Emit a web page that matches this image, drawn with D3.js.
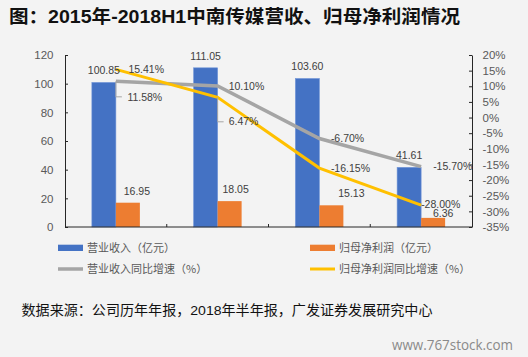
<!DOCTYPE html>
<html><head><meta charset="utf-8">
<script src="https://cdn.jsdelivr.net/npm/d3@7"></script>
<style>
html,body{margin:0;padding:0;background:#f3f3f3;}
svg{display:block;font-family:"Liberation Sans","Noto Sans CJK SC",sans-serif;}
</style></head>
<body><svg id="c" width="528" height="357"></svg>
<script>
const categories = ["2015","2016","2017","2018H1"];
const revenue = [100.85, 111.05, 103.60, 41.61];
const netProfit = [16.95, 18.05, 15.13, 6.36];
const revenueGrowth = [11.58, 10.10, -6.70, -15.70];
const profitGrowth = [15.41, 6.47, -16.15, -28.00];
const leftTicks = [0,20,40,60,80,100,120];
const rightTicks = [-35,-30,-25,-20,-15,-10,-5,0,5,10,15,20];
const seriesNames = ["营业收入（亿元）","归母净利润（亿元）","营业收入同比增速（%）","归母净利润同比增速（%）"];
const titleText = "图：2015年-2018H1中南传媒营收、归母净利润情况";
const sourceText = "数据来源：公司历年年报，2018年半年报，广发证券发展研究中心";
const watermark = "www.767stock.com";

// label placement tweaks (layout, not data)
const profitLabelDx = [9, 6, 20, 10];
const profitLabelDy = [-11, -12, -12, -5];
const grayLabelDx = [11.5, 11, 11.5, 12];
const grayLabelDy = [15.5, 0, 0, 0];
const yellowLabelDx = [12.5, 11, 11.5, 0];
const yellowLabelDy = [0, 24.5, 0, -1];

const svg = d3.select("#c");
const colors = {rev:"#4472c4", np:"#ed7d31", rg:"#a5a5a5", pg:"#ffc000"};
const L=65, R=472, T=55, B=227;

const x = d3.scaleBand().domain(categories).range([L,R]).padding(0);
const x1 = d3.scaleBand().domain(["rev","np"]).range([0,x.bandwidth()]).paddingInner(0).paddingOuter(1.12);
const y = d3.scaleLinear().domain([0,120]).range([B,T]);
const y2 = d3.scaleLinear().domain([-35,20]).range([B,T]);
const cx = d => x(d)+x.bandwidth()/2;

// title
svg.append("text").attr("x",9).attr("y",16).attr("dy","0.36em")
  .attr("font-size",18.5).attr("font-weight","bold").attr("fill","#111")
  .attr("textLength",451).attr("lengthAdjust","spacingAndGlyphs").text(titleText);

// bars
const g = svg.append("g");
g.selectAll(".rev").data(categories).join("rect")
  .attr("x",d=>x(d)+x1("rev")).attr("width",x1.bandwidth())
  .attr("y",(d,i)=>y(revenue[i])).attr("height",(d,i)=>y(0)-y(revenue[i]))
  .attr("fill",colors.rev).attr("stroke","#6f93d8").attr("stroke-width",0.6);
g.selectAll(".np").data(categories).join("rect")
  .attr("x",d=>x(d)+x1("np")).attr("width",x1.bandwidth())
  .attr("y",(d,i)=>y(netProfit[i])).attr("height",(d,i)=>y(0)-y(netProfit[i]))
  .attr("fill",colors.np);

// axes
const axL = d3.axisLeft(y).tickValues(leftTicks).tickSizeInner(-3).tickSizeOuter(0).tickPadding(11.5);
const axR = d3.axisRight(y2).tickValues(rightTicks).tickSizeInner(-3).tickSizeOuter(0).tickPadding(10.5).tickFormat(d=>d+"%");
function styleAx(sel){
  sel.selectAll("path,line").attr("stroke","#262626");
  sel.selectAll("text").attr("fill","#595959").attr("font-size",11.5);
}
svg.append("g").attr("transform",`translate(${L},0)`).call(axL).call(styleAx).attr("font-family",null);
svg.append("g").attr("transform",`translate(${R},0)`).call(axR).call(styleAx).attr("font-family",null);
svg.selectAll(".tick text").attr("font-family","Liberation Sans");
// x axis
svg.append("line").attr("x1",L).attr("x2",R).attr("y1",B).attr("y2",B).attr("stroke","#262626");
svg.selectAll(".xt").data(categories.slice(1)).join("line")
  .attr("x1",d=>x(d)).attr("x2",d=>x(d)).attr("y1",B).attr("y2",B-3).attr("stroke","#262626");

// lines
const line = d3.line().x((d,i)=>cx(categories[i]));
svg.append("path").datum(revenueGrowth).attr("d",line.y(d=>y2(d)))
  .attr("fill","none").attr("stroke",colors.rg).attr("stroke-width",3.5);
svg.append("path").datum(profitGrowth).attr("d",line.y(d=>y2(d)))
  .attr("fill","none").attr("stroke",colors.pg).attr("stroke-width",3);

// leader lines
function leader(i, vals, dy){
  const px = cx(categories[i]), py = y2(vals[i]);
  svg.append("path").attr("d",`M${px},${py}V${py+dy}H${px+6}`)
    .attr("fill","none").attr("stroke","#a6a6a6").attr("stroke-width",1);
}
leader(0, revenueGrowth, grayLabelDy[0]);
leader(1, profitGrowth, yellowLabelDy[1]);

// labels
const lab = svg.append("g").attr("font-size",10.5).attr("fill","#404040");
lab.selectAll(".rl").data(categories).join("text")
  .attr("x",d=>x(d)+x1("rev")+x1.bandwidth()/2).attr("y",(d,i)=>y(revenue[i])-12).attr("dy","0.35em")
  .attr("text-anchor","middle").text((d,i)=>revenue[i].toFixed(2));
lab.selectAll(".nl").data(categories).join("text")
  .attr("x",(d,i)=>x(d)+x1("np")+x1.bandwidth()/2+profitLabelDx[i]).attr("y",(d,i)=>y(netProfit[i])+profitLabelDy[i]).attr("dy","0.35em")
  .attr("text-anchor","middle").text((d,i)=>netProfit[i].toFixed(2));
lab.selectAll(".gl").data(categories).join("text")
  .attr("x",(d,i)=>cx(d)+grayLabelDx[i]).attr("y",(d,i)=>y2(revenueGrowth[i])+grayLabelDy[i]).attr("dy","0.35em")
  .text((d,i)=>revenueGrowth[i].toFixed(2)+"%");
lab.selectAll(".yl").data(categories).join("text")
  .attr("x",(d,i)=>cx(d)+yellowLabelDx[i]).attr("y",(d,i)=>y2(profitGrowth[i])+yellowLabelDy[i]).attr("dy","0.35em")
  .text((d,i)=>profitGrowth[i].toFixed(2)+"%");

// legend
const leg = svg.append("g").attr("font-size",11).attr("fill","#595959");
const lx = [58,310], ly = [248,269];
const legItems = [
  {t:seriesNames[0],c:colors.rev,type:"rect",col:0,row:0},
  {t:seriesNames[1],c:colors.np,type:"rect",col:1,row:0},
  {t:seriesNames[2],c:colors.rg,type:"line",col:0,row:1,w:3.5},
  {t:seriesNames[3],c:colors.pg,type:"line",col:1,row:1,w:3}
];
legItems.forEach(d=>{
  const X=lx[d.col], Y=ly[d.row];
  if(d.type==="rect") leg.append("rect").attr("x",X).attr("y",Y-3.3).attr("width",25).attr("height",6.3).attr("fill",d.c);
  else leg.append("line").attr("x1",X).attr("x2",X+25).attr("y1",Y).attr("y2",Y).attr("stroke",d.c).attr("stroke-width",d.w);
  leg.append("text").attr("x",X+29).attr("y",Y).attr("dy","0.36em").attr("font-family","Noto Sans CJK SC").text(d.t);
});

// source
svg.append("text").attr("x",21.5).attr("y",310).attr("dy","0.36em").attr("font-size",13.5).attr("fill","#111")
  .attr("textLength",411).attr("lengthAdjust","spacingAndGlyphs").text(sourceText);
// watermark
svg.append("text").attr("x",392).attr("y",345).attr("dy","0.36em").attr("font-size",14).attr("fill","#8a8a8a")
  .attr("font-family","Open Sans").attr("textLength",121).attr("lengthAdjust","spacingAndGlyphs").text(watermark);
</script></body></html>
